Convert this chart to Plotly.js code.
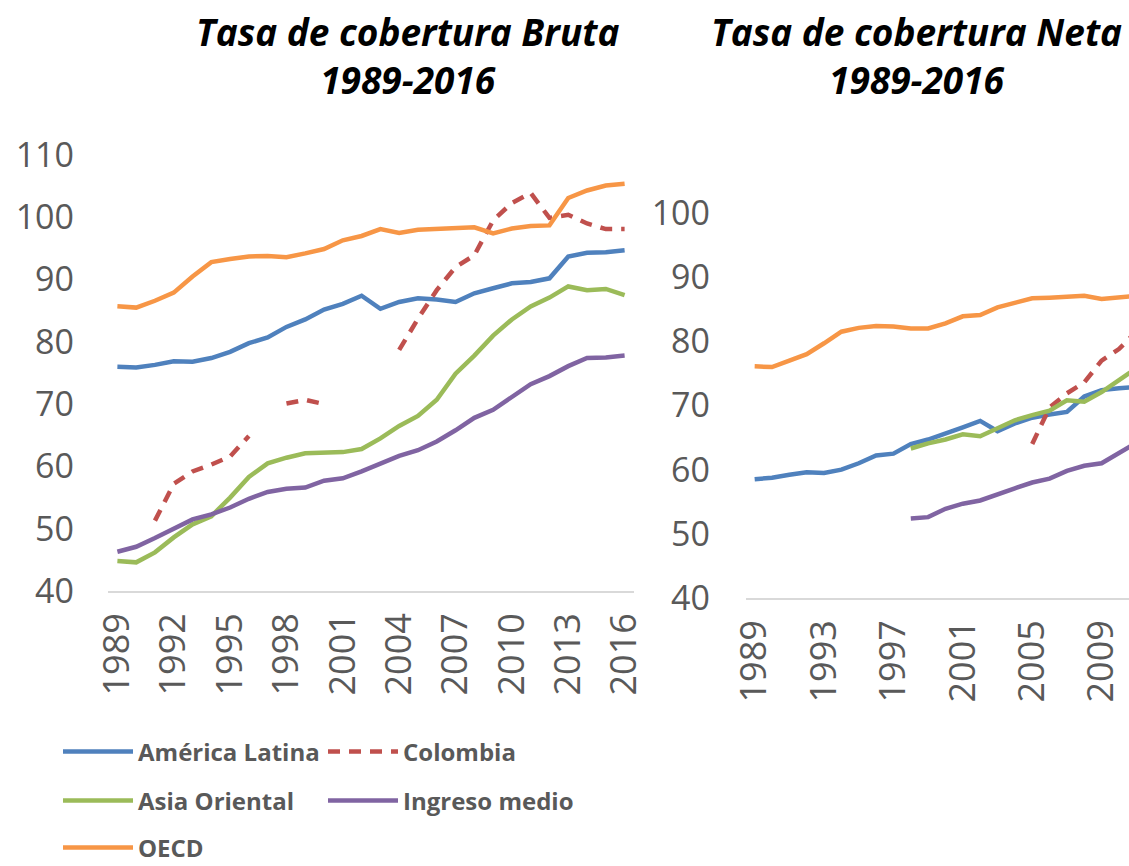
<!DOCTYPE html>
<html>
<head>
<meta charset="utf-8">
<script src="https://cdn.plot.ly/plotly-3.0.1.min.js"></script>
<style>html,body{margin:0;padding:0;background:#fff;}#chart{width:1129px;height:866px;}</style>
</head>
<body>
<div id="chart"></div>
<script>
// ---- data ----
const yearsBruta = [1989,1990,1991,1992,1993,1994,1995,1996,1997,1998,1999,2000,2001,2002,2003,2004,2005,2006,2007,2008,2009,2010,2011,2012,2013,2014,2015,2016];
const brutaAmericaLatina = [76.0,75.9,76.3,76.9,76.8,77.4,78.4,79.8,80.7,82.4,83.6,85.2,86.1,87.4,85.3,86.4,87.0,86.8,86.4,87.8,88.6,89.4,89.6,90.2,93.7,94.3,94.4,94.7];
const brutaColombia = [null,null,51.3,57.2,59.2,60.3,61.6,64.9,null,70.1,70.7,70.0,null,null,null,78.7,83.7,88.3,92.0,93.9,99.5,102.3,103.9,99.9,100.4,99.0,98.1,98.1];
const brutaAsiaOriental = [44.8,44.6,46.2,48.6,50.7,52.0,55.0,58.3,60.5,61.4,62.1,62.2,62.3,62.8,64.5,66.5,68.1,70.7,74.9,77.8,81.0,83.6,85.7,87.1,88.9,88.3,88.5,87.5];
const brutaIngresoMedio = [46.3,47.1,48.5,50.1,51.5,52.3,53.4,54.8,55.9,56.4,56.6,57.7,58.1,59.2,60.4,61.7,62.6,64.0,65.8,67.8,69.1,71.2,73.2,74.5,76.1,77.4,77.5,77.8];
const brutaOECD = [85.7,85.5,86.6,87.9,90.5,92.8,93.3,93.7,93.8,93.6,94.2,94.9,96.3,97.0,98.1,97.5,98.0,98.1,98.2,98.4,97.4,98.2,98.6,98.7,103.1,104.3,105.1,105.4];

const yearsNeta = [1989,1990,1991,1992,1993,1994,1995,1996,1997,1998,1999,2000,2001,2002,2003,2004,2005,2006,2007,2008,2009,2010,2011];
const netaAmericaLatina = [58.5,58.75,59.2,59.6,59.5,60.0,61.0,62.2,62.5,64.0,64.7,65.6,66.6,67.6,66.0,67.2,68.1,68.6,69.0,71.4,72.4,72.7,72.9];
const netaColombia = [null,null,null,null,null,null,null,null,null,null,null,null,null,null,null,null,64.0,69.7,71.9,73.6,77.0,78.8,81.5];
const netaAsiaOriental = [null,null,null,null,null,null,null,null,null,63.3,64.1,64.7,65.5,65.2,66.4,67.7,68.5,69.2,70.8,70.6,72.1,74.0,75.8];
const netaIngresoMedio = [null,null,null,null,null,null,null,null,null,52.4,52.6,53.9,54.7,55.2,56.2,57.1,58.0,58.6,59.8,60.6,61.0,62.6,64.2];
const netaOECD = [76.1,76.0,77.0,78.0,79.7,81.5,82.1,82.4,82.3,82.0,82.0,82.8,83.9,84.1,85.3,86.0,86.7,86.8,86.9,87.1,86.6,86.9,87.1];

const seriesNames = ['América Latina','Colombia','Asia Oriental','Ingreso medio','OECD'];
const titleBruta = 'Tasa de cobertura Bruta<br>1989-2016';
const titleNeta = 'Tasa de cobertura Neta<br>1989-2016';

// ---- styles ----
const colors = ['#4F81BD','#C0504D','#9BBB59','#8064A2','#F79646'];
const dashes = ['solid','12px,9px','solid','solid','solid'];
const legendIds = ['legend','legend','legend2','legend2','legend3'];
const LW = 4.5;

const brutaSeries = [brutaAmericaLatina, brutaColombia, brutaAsiaOriental, brutaIngresoMedio, brutaOECD];
const netaSeries = [netaAmericaLatina, netaColombia, netaAsiaOriental, netaIngresoMedio, netaOECD];

const traces = [];
brutaSeries.forEach((ys, i) => {
  traces.push({
    x: yearsBruta, y: ys, type: 'scatter', mode: 'lines', name: seriesNames[i],
    line: {color: colors[i], width: LW, dash: dashes[i]},
    xaxis: 'x', yaxis: 'y', connectgaps: false, legend: legendIds[i], showlegend: true,
    hoverinfo: 'x+y+name'
  });
});
netaSeries.forEach((ys, i) => {
  traces.push({
    x: yearsNeta, y: ys, type: 'scatter', mode: 'lines', name: seriesNames[i],
    line: {color: colors[i], width: LW, dash: dashes[i]},
    xaxis: 'x2', yaxis: 'y2', connectgaps: false, showlegend: false,
    hoverinfo: 'x+y+name'
  });
});

const W = 1129, H = 866;
const px = v => v / W;
const py = v => (H - v) / H;
const FONT = 'Open Sans, Liberation Sans, sans-serif';
const GRAY = '#595959';

const legendBase = {
  orientation: 'h', xref: 'paper', yref: 'paper', xanchor: 'left', yanchor: 'middle',
  font: {family: FONT, size: 24, color: GRAY, weight: 'bold'},
  bgcolor: 'rgba(0,0,0,0)', itemwidth: 70, entrywidth: 180, entrywidthmode: 'pixels',
  traceorder: 'normal'
};

const layout = {
  width: W, height: H,
  margin: {l: 0, r: 0, t: 0, b: 0, autoexpand: false},
  paper_bgcolor: '#ffffff', plot_bgcolor: '#ffffff',
  font: {family: FONT, color: GRAY},
  showlegend: true,
  xaxis: {
    domain: [px(108), px(634)], range: [1988.5, 2016.5],
    tickmode: 'linear', tick0: 1989, dtick: 3, tickangle: -90,
    showgrid: false, zeroline: false, showline: true, linecolor: '#d9d9d9', linewidth: 1.5,
    ticks: '', tickfont: {size: 36, color: GRAY, family: FONT}, ticklabelstandoff: 6,
    automargin: false, fixedrange: true
  },
  yaxis: {
    domain: [py(591), py(155)], range: [40, 110],
    tickmode: 'linear', tick0: 40, dtick: 10,
    showgrid: false, zeroline: false, showline: false,
    ticks: '', tickfont: {size: 34, color: GRAY, family: FONT}, ticklabelstandoff: 33,
    automargin: false, fixedrange: true
  },
  xaxis2: {
    domain: [px(746), 1], range: [1988.5, 2010.58], anchor: 'y2',
    tickmode: 'linear', tick0: 1989, dtick: 4, tickangle: -90,
    showgrid: false, zeroline: false, showline: true, linecolor: '#d9d9d9', linewidth: 1.5,
    ticks: '', tickfont: {size: 36, color: GRAY, family: FONT}, ticklabelstandoff: 6,
    automargin: false, fixedrange: true
  },
  yaxis2: {
    domain: [py(598), py(213)], range: [40, 100], anchor: 'x2',
    tickmode: 'linear', tick0: 40, dtick: 10,
    showgrid: false, zeroline: false, showline: false,
    ticks: '', tickfont: {size: 34, color: GRAY, family: FONT}, ticklabelstandoff: 35,
    automargin: false, fixedrange: true
  },
  legend: Object.assign({}, legendBase, {x: px(58), y: py(752)}),
  legend2: Object.assign({}, legendBase, {x: px(58), y: py(801)}),
  legend3: Object.assign({}, legendBase, {x: px(58), y: py(848)}),
  annotations: [
    {text: '<b><i>' + titleBruta + '</i></b>', xref: 'paper', yref: 'paper', x: px(407), y: py(55),
     xanchor: 'center', yanchor: 'middle', showarrow: false, align: 'center',
     font: {family: FONT, size: 37, color: '#000000'}},
    {text: '<b><i>' + titleNeta + '</i></b>', xref: 'paper', yref: 'paper', x: px(916), y: py(55),
     xanchor: 'center', yanchor: 'middle', showarrow: false, align: 'center',
     font: {family: FONT, size: 37, color: '#000000'}}
  ]
};

Plotly.newPlot('chart', traces, layout, {displayModeBar: false, staticPlot: false, responsive: false});
</script>
</body>
</html>
